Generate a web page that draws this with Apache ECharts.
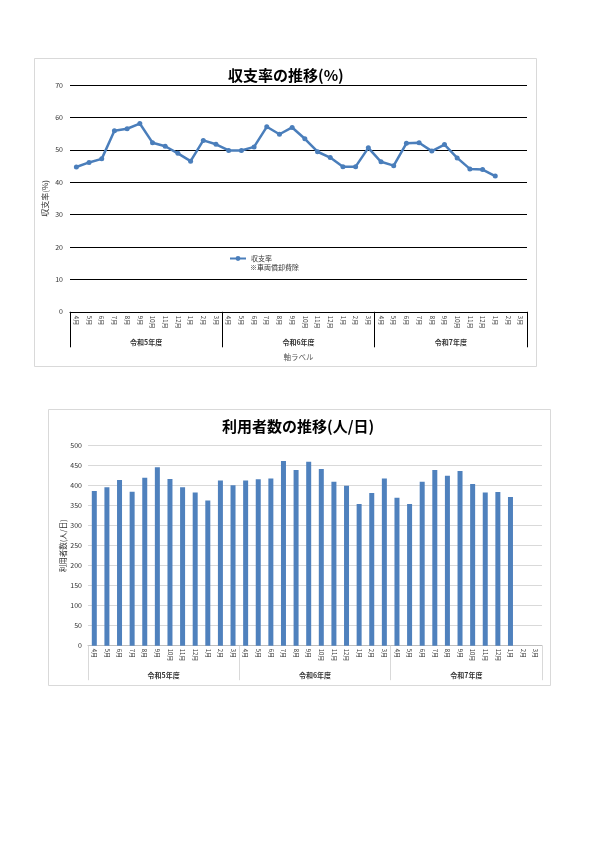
<!DOCTYPE html>
<html>
<head>
<meta charset="utf-8">
<script src="https://cdn.jsdelivr.net/npm/echarts@6/dist/echarts.min.js"></script>
<style>
html,body{margin:0;padding:0;background:#fff;}
#main{width:600px;height:848px;}
</style>
</head>
<body>
<div id="main"></div>
<script>
// ---- data ----
var months = ['4月','5月','6月','7月','8月','9月','10月','11月','12月','1月','2月','3月',
              '4月','5月','6月','7月','8月','9月','10月','11月','12月','1月','2月','3月',
              '4月','5月','6月','7月','8月','9月','10月','11月','12月','1月','2月','3月'];
var fiscalYears = ['令和5年度','令和6年度','令和7年度'];
var ratioValues = [44.7,46.1,47.2,55.9,56.5,58.1,52.2,51.1,48.9,46.5,52.9,51.7,
                   49.8,49.8,50.9,57.1,54.8,56.9,53.4,49.4,47.6,44.8,44.8,50.6,
                   46.3,45.1,52.0,52.2,49.6,51.6,47.5,44.1,43.9,41.9,null,null];
var userValues = [387,396,414,385,420,446,417,396,383,363,413,401,
                  413,416,418,462,439,460,442,410,400,354,382,418,
                  370,354,410,439,425,437,404,383,384,372,null,null];
var title1 = '収支率の推移(%)';
var title2 = '利用者数の推移(人/日)';
var seriesName1 = '収支率';
var note1 = '※車両償却費除';
var seriesName2 = '利用者数';
var yName1 = '収支率(%)';
var yName2 = '利用者数(人/日)';
var xName1 = '軸ラベル';

var FONT = '"Noto Sans CJK JP", "Noto Sans", sans-serif';
var chart = echarts.init(document.getElementById('main'), null, {renderer:'canvas'});

var option = {
  backgroundColor: '#fff',
  textStyle: {fontFamily: FONT},
  animation: false,
  title: [
    {text: title1, left: 228, top: 68, padding: 0, textStyle:{fontSize:15, fontWeight:'bold', color:'#000', fontFamily:FONT}},
    {text: title2, left: 222, top: 419, padding: 0, textStyle:{fontSize:15, fontWeight:'bold', color:'#000', fontFamily:FONT}}
  ],
  legend: {
    data: [seriesName1],
    left: 229, top: 255, padding: 0,
    itemWidth: 16, itemHeight: 6,
    textStyle: {fontSize: 7, color:'#333', fontFamily:FONT}
  },
  graphic: [
    {type:'rect', shape:{x:34.5, y:58.5, width:502, height:308}, style:{fill:'none', stroke:'#d9d9d9', lineWidth:1}, z:-1},
    {type:'rect', shape:{x:48.5, y:409.5, width:502, height:276}, style:{fill:'none', stroke:'#d9d9d9', lineWidth:1}, z:-1},
    {type:'text', left: 250, top: 264, style:{text: note1, fontSize: 7, fill:'#333', fontFamily:FONT}}
  ],
  grid: [
    {left:70, right:73, top:85, bottom:536.2},
    {left:88, right:58, top:445.7, bottom:202.3}
  ],
  xAxis: [
    {gridIndex:0, type:'category', data: months, position:'bottom', boundaryGap:true,
     axisLine:{show:true, lineStyle:{color:'#000', width:1}},
     axisTick:{show:false},
     axisLabel:{interval:0, rotate:-90, fontSize:6, color:'#333', margin:4, fontFamily:FONT}},
    {gridIndex:0, type:'category', data: fiscalYears, position:'bottom', boundaryGap:true,
     axisLine:{show:false},
     axisTick:{show:true, length:35.5, interval:0, lineStyle:{color:'#000', width:1}},
     axisLabel:{interval:0, fontSize:7, color:'#333', fontWeight:'bold', margin:27, fontFamily:FONT},
     name: xName1, nameLocation:'middle', nameGap:42, nameMoveOverlap:false,
     nameTextStyle:{fontSize:7.5, color:'#595959', fontFamily:FONT}},
    {gridIndex:1, type:'category', data: months, position:'bottom', boundaryGap:true,
     axisLine:{show:true, lineStyle:{color:'#bfbfbf', width:1}},
     axisTick:{show:false},
     axisLabel:{interval:0, rotate:-90, fontSize:6, color:'#333', margin:3, fontFamily:FONT}},
    {gridIndex:1, type:'category', data: fiscalYears, position:'bottom', boundaryGap:true,
     axisLine:{show:false},
     axisTick:{show:true, length:34.5, interval:0, lineStyle:{color:'#d9d9d9', width:1}},
     axisLabel:{interval:0, fontSize:7, color:'#333', fontWeight:'bold', margin:26.5, fontFamily:FONT}}
  ],
  yAxis: [
    {gridIndex:0, type:'value', min:0, max:70, interval:10,
     axisLine:{show:false}, axisTick:{show:false},
     axisLabel:{fontSize:7, color:'#333', margin:7, fontFamily:FONT},
     splitLine:{show:true, lineStyle:{color:'#000', width:1.2}},
     name: yName1, nameLocation:'middle', nameRotate:90, nameGap:21, nameMoveOverlap:false,
     nameTextStyle:{fontSize:8, color:'#333', fontFamily:FONT}},
    {gridIndex:1, type:'value', min:0, max:500, interval:50,
     axisLine:{show:false}, axisTick:{show:false},
     axisLabel:{fontSize:7, color:'#333', margin:6, fontFamily:FONT},
     splitLine:{show:true, lineStyle:{color:'#d9d9d9', width:1}},
     name: yName2, nameLocation:'middle', nameRotate:90, nameGap:21, nameMoveOverlap:false,
     nameTextStyle:{fontSize:7.5, color:'#333', fontFamily:FONT}}
  ],
  series: [
    {name: seriesName1, type:'line', xAxisIndex:0, yAxisIndex:0, data: ratioValues,
     symbol:'circle', symbolSize:5, connectNulls:false,
     lineStyle:{color:'#4a7ebb', width:2.5}, itemStyle:{color:'#4a7ebb'}},
    {name: seriesName2, type:'bar', xAxisIndex:2, yAxisIndex:1, data: userValues,
     barWidth:5, itemStyle:{color:'#4f81bd'}}
  ]
};
chart.setOption(option);
</script>
</body>
</html>
